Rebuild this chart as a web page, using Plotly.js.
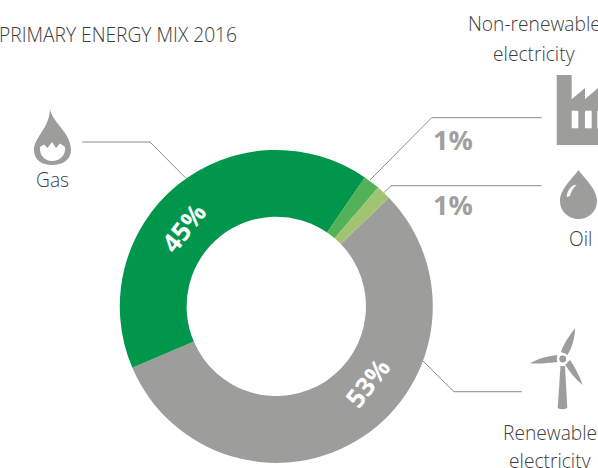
<!DOCTYPE html>
<html><head><meta charset="utf-8">
<script src="https://cdn.plot.ly/plotly-3.0.1.min.js"></script>
<style>html,body{margin:0;padding:0;background:#fff;overflow:hidden}</style>
</head><body><div id="chart" style="width:598px;height:468px"></div>
<script>
// Order follows the ring clockwise, starting at the renewable/oil boundary.
const categories = ["Renewable electricity", "Gas", "Non-renewable electricity", "Oil"];
const arcShares = [55.8, 41.0, 1.7, 1.5];
const printedLabels = ["53%", "45%", "1%", "1%"];
const sliceColors = ["#9d9d9c", "#00964c", "#52b257", "#9fc573"];

const W = 598, H = 468;
const px = x => x / W, py = y => 1 - y / H;
const GREY = "#9d9d9c", TXT = "#3c3c3c", LINE = "#8c8c8c";

// Converts a path in page pixels to paper coordinates
function P(d) {
  let isX = true;
  return d.replace(/-?\d+(\.\d+)?/g, m => {
    const v = isX ? px(+m) : py(+m);
    isX = !isX;
    return v.toFixed(5);
  });
}
const line = d => ({type:"path", xref:"paper", yref:"paper", path:P(d), line:{color:LINE, width:1}});
const fill = (d, c) => ({type:"path", xref:"paper", yref:"paper", path:P(d), fillcolor:c, line:{width:0}});
const circle = (cx, cy, r, c) => ({type:"circle", xref:"paper", yref:"paper",
  x0:px(cx-r), x1:px(cx+r), y0:py(cy+r), y1:py(cy-r), fillcolor:c, line:{width:0}});

const shapes = [
  line("M 82.3 142 L 150 142 L 185.7 178"),
  line("M 541.7 117.7 L 431.7 117.7 L 370 180"),
  line("M 541.7 185.7 L 391 185.7 L 384.3 192.3"),
  line("M 521.7 391.7 L 454 391.7 L 422.7 360.7"),
  // gas flame
  fill("M 50 108 C 51 122 71 132 71 150 C 71 160 62 165 52 165 C 42 165 34 160 34 150 C 34 137 50 128 50 108 Z", GREY),
  fill("M 40 147 L 44 144.5 L 47.5 148 L 52 142 L 56 148 L 60 143.5 L 65 147 C 66 155 60 161 52 161 C 45 161 39 155 40 147 Z", "#ffffff"),
  // oil drop
  fill("M 578.5 170 C 584 178 597 189 597 201 C 597 212 588 219 578.5 219 C 569 219 560 212 560 201 C 560 189 573 178 578.5 170 Z", GREY),
  fill("M 566.7 197 C 567 191 571 185 576.7 184.5 C 573 188 571 192 570 196 Z", "#ffffff"),
  // factory
  fill("M 556.7 75 L 571.7 75 L 571.7 99.3 L 585 88 L 585 99.3 L 598 88 L 598 145 L 556.7 145 Z", GREY),
  fill("M 571.7 110.7 L 578.3 110.7 L 578.3 128.3 L 571.7 128.3 Z", "#ffffff"),
  fill("M 585 110.7 L 591.7 110.7 L 591.7 128.3 L 585 128.3 Z", "#ffffff"),
  fill("M 597.3 110.7 L 598 110.7 L 598 128.3 L 597.3 128.3 Z", "#ffffff"),
  // wind turbine
  fill("M 560.5 366 L 565 366 L 567.3 408 Q 562.5 410.5 557.7 408 Z", GREY),
  fill("M 575 328.3 C 575 340 571 349 567.5 355 L 561 352 C 564 343 570 335 575 328.3 Z", GREY),
  fill("M 530 363.3 C 539 358 549 356 557 355 L 558 362 C 549 363 539 364 530 363.3 Z", GREY),
  fill("M 582.7 385 C 575 379 569 371 565 364.5 L 570 360 C 575 367 580 377 582.7 385 Z", GREY),
  circle(562.7, 359, 6, "#ffffff"),
  circle(562.7, 359, 3.4, GREY)
];

const note = (text, x, y, size, color, weight, extra) => Object.assign({
  text, x:px(x), y:py(y), xref:"paper", yref:"paper", xanchor:"center", yanchor:"middle",
  showarrow:false, font:{family:"Open Sans", size, color, weight}
}, extra || {});

const annotations = [
  note(printedLabels[0], 367, 383, 26, "#ffffff", 700, {textangle:-52}),
  note(printedLabels[1], 183, 228, 26, "#ffffff", 700, {textangle:-52}),
  note(printedLabels[2], 453, 139, 27, "#a0a0a0", 700),
  note(printedLabels[3], 453, 204, 27, "#a0a0a0", 700),
  note("Gas", 52, 179, 19.2, TXT, 300),
  note("Oil", 580, 238, 19.2, TXT, 300),
  note("Non-renewable", 534, 23, 19.2, TXT, 300),
  note("electricity", 534, 53, 19.2, TXT, 300),
  note("Renewable", 550, 432, 19.2, TXT, 300),
  note("electricity", 550, 460, 19.2, TXT, 300)
];

const trace = {
  type:"pie", labels:categories, values:arcShares, sort:false, direction:"clockwise",
  rotation:46, hole:0.573, textinfo:"none", hoverinfo:"none",
  marker:{colors:sliceColors, line:{width:0}},
  domain:{x:[px(119.8), px(432.8)], y:[py(462.9), py(149.9)]}
};

Plotly.newPlot("chart", [trace], {
  width:W, height:H, margin:{l:0,r:0,t:0,b:0}, showlegend:false,
  paper_bgcolor:"#fff", plot_bgcolor:"#fff",
  title:{text:"PRIMARY ENERGY MIX 2016", x:px(118), xref:"paper", xanchor:"center",
    y:py(35), yref:"container", yanchor:"middle", font:{family:"Open Sans", size:19.2, color:TXT, weight:300}},
  shapes, annotations
}, {displayModeBar:false, staticPlot:true});
</script></body></html>
